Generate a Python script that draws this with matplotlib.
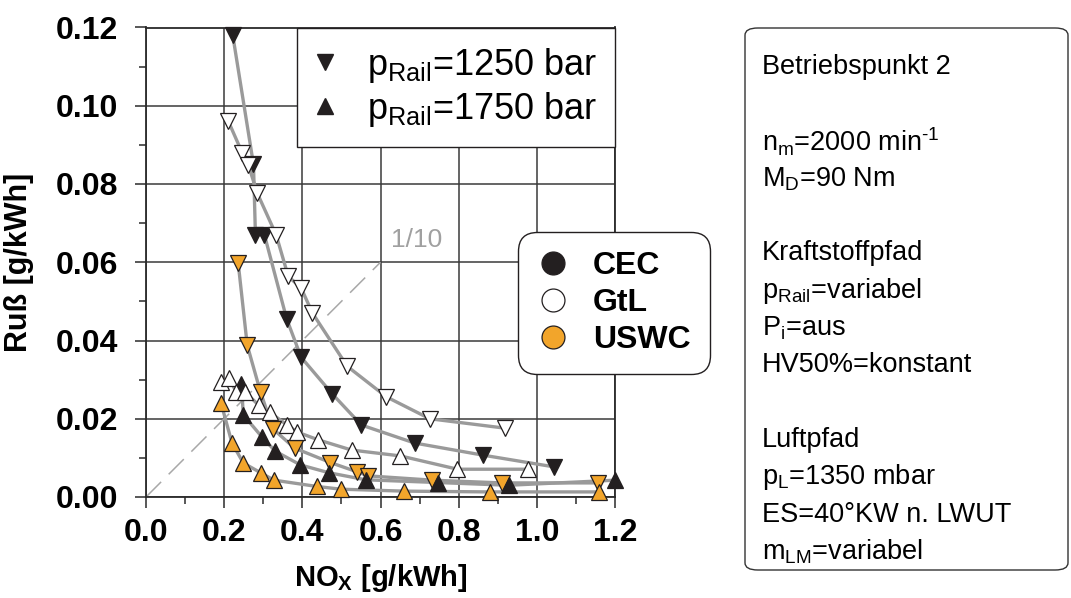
import matplotlib
matplotlib.use("Agg")
import matplotlib.pyplot as plt
from matplotlib.lines import Line2D
from matplotlib.patches import FancyBboxPatch
from matplotlib.ticker import MultipleLocator, FormatStrFormatter

plt.rcParams['font.family'] = ['Liberation Sans', 'DejaVu Sans']
plt.rcParams['mathtext.fontset'] = 'custom'
plt.rcParams['mathtext.rm'] = 'Liberation Sans'
plt.rcParams['mathtext.it'] = 'Liberation Sans'
plt.rcParams['mathtext.bf'] = 'Liberation Sans:bold'

# ---------------- data ----------------
cec_1250_x = [0.222, 0.275, 0.280, 0.303, 0.360, 0.397, 0.477, 0.551, 0.687, 0.862, 1.044]
cec_1250_y = [0.118, 0.085, 0.067, 0.067, 0.0455, 0.0357, 0.0263, 0.0184, 0.0138, 0.0107, 0.0077]

cec_1750_x = [0.244, 0.249, 0.297, 0.331, 0.395, 0.468, 0.562, 0.746, 0.928, 1.200]
cec_1750_y = [0.029, 0.021, 0.0153, 0.0117, 0.0082, 0.0062, 0.0044, 0.0037, 0.0030, 0.0043]

gtl_1250_x = [0.210, 0.246, 0.262, 0.285, 0.333, 0.364, 0.397, 0.426, 0.515, 0.615, 0.726, 0.918]
gtl_1250_y = [0.0962, 0.088, 0.0848, 0.0776, 0.067, 0.0564, 0.0534, 0.047, 0.0334, 0.0256, 0.020, 0.0176]

gtl_1750_x = [0.192, 0.213, 0.231, 0.254, 0.288, 0.316, 0.361, 0.387, 0.441, 0.526, 0.651, 0.797, 0.977]
gtl_1750_y = [0.0294, 0.0303, 0.0268, 0.0268, 0.0235, 0.0217, 0.0184, 0.0166, 0.0146, 0.0120, 0.0105, 0.0071, 0.0071]

uswc_1250_x = [0.236, 0.259, 0.293, 0.325, 0.380, 0.472, 0.541, 0.569, 0.733, 0.910, 1.157]
uswc_1250_y = [0.0597, 0.0388, 0.0268, 0.0174, 0.0125, 0.0088, 0.0064, 0.0054, 0.0043, 0.0036, 0.0036]

uswc_1750_x = [0.192, 0.220, 0.249, 0.295, 0.328, 0.437, 0.498, 0.659, 0.879, 1.159]
uswc_1750_y = [0.0240, 0.0138, 0.0087, 0.0061, 0.0043, 0.0027, 0.0020, 0.0015, 0.0013, 0.0013]

ratio_x = [0.0, 0.6]
ratio_y = [0.0, 0.06]

fuel_labels = ['CEC', 'GtL', 'USWC']
pressure_labels = [r'$\mathregular{p_{Rail}}$=1250 bar', r'$\mathregular{p_{Rail}}$=1750 bar']

info_lines = [
    'Betriebspunkt 2', '',
    r'$\mathregular{n_m}$=2000 min$\mathregular{^{\text{-}1}}$',
    r'$\mathregular{M_D}$=90 Nm', '',
    'Kraftstoffpfad',
    r'$\mathregular{p_{Rail}}$=variabel',
    r'$\mathregular{P_i}$=aus',
    'HV50%=konstant', '',
    'Luftpfad',
    r'$\mathregular{p_L}$=1350 mbar',
    'ES=40°KW n. LWUT',
    r'$\mathregular{m_{LM}}$=variabel',
]

# ---------------- styling ----------------
BLACK = '#231F20'
ORANGE = '#F2A52B'
WHITE = '#FFFFFF'
LINEGRAY = '#9A9A9A'

fig = plt.figure(figsize=(10.71, 5.98), dpi=100)
ax = fig.add_axes([146/1071, 1-497/598, (615-146)/1071, (497-27.5)/598])

series = [
    (uswc_1250_x, uswc_1250_y, 'v', ORANGE),
    (cec_1250_x, cec_1250_y, 'v', BLACK),
    (cec_1750_x, cec_1750_y, '^', BLACK),
    (gtl_1250_x, gtl_1250_y, 'v', WHITE),
    (gtl_1750_x, gtl_1750_y, '^', WHITE),
    (uswc_1750_x, uswc_1750_y, '^', ORANGE),
]
for xs, ys, m, c in series:
    ax.plot(xs, ys, '-', color=LINEGRAY, lw=2.4, zorder=3, solid_capstyle='round')
for i, (xs, ys, m, c) in enumerate(series):
    ax.plot(xs, ys, linestyle='none', marker=m, ms=11.5, mfc=c, mec=BLACK,
            mew=0.9, zorder=4 + i, clip_on=False)

ax.plot(ratio_x, ratio_y, color='#A8A8A8', lw=1.1, dashes=(14, 7), zorder=2.5)
ax.text(0.627, 0.0657, '1/10', color='#A0A0A0', fontsize=19, va='center', ha='left', zorder=2.5)

ax.set_xlim(0, 1.2)
ax.set_ylim(0, 0.12)
ax.xaxis.set_major_locator(MultipleLocator(0.2))
ax.xaxis.set_minor_locator(MultipleLocator(0.1))
ax.yaxis.set_major_locator(MultipleLocator(0.02))
ax.yaxis.set_minor_locator(MultipleLocator(0.01))
ax.xaxis.set_major_formatter(FormatStrFormatter('%.1f'))
ax.yaxis.set_major_formatter(FormatStrFormatter('%.2f'))
ax.grid(True, which='major', color='#3A3A3A', lw=1.1, zorder=1)
ax.set_axisbelow(True)
for s in ax.spines.values():
    s.set_color('#2A2A2A')
    s.set_linewidth(1.3)
ax.tick_params(which='major', direction='out', length=8, width=1.1, color='#2A2A2A',
               labelsize=23)
ax.tick_params(axis='y', which='major', pad=12)
ax.tick_params(axis='x', which='major', pad=7)
ax.tick_params(which='minor', direction='out', length=5, width=1.1, color='#2A2A2A')
for lab in ax.get_xticklabels() + ax.get_yticklabels():
    lab.set_fontweight('bold')

ax.set_xlabel(r'NO$\mathbf{_X}$ [g/kWh]', fontsize=21, fontweight='bold', labelpad=10)
ax.set_ylabel('Ruß [g/kWh]', fontsize=22, fontweight='bold', labelpad=16)

# pressure legend
p_handles = [Line2D([], [], ls='none', marker='v', ms=11, mfc=BLACK, mec=BLACK),
             Line2D([], [], ls='none', marker='^', ms=11, mfc=BLACK, mec=BLACK)]
leg1 = ax.legend(p_handles, pressure_labels, loc='upper right', bbox_to_anchor=(1.0, 1.0),
                 borderaxespad=0, fancybox=False, framealpha=1, edgecolor=BLACK,
                 prop={'size': 26}, handlelength=0.55, handletextpad=0.88,
                 labelspacing=0.15, borderpad=0.5)
leg1.get_frame().set_linewidth(1.0)
leg1.set_zorder(20)
ax.add_artist(leg1)

# fuel legend
f_handles = [Line2D([], [], ls='none', marker='o', ms=16.5, mfc=c, mec=BLACK, mew=0.9)
             for c in (BLACK, WHITE, ORANGE)]
leg2 = ax.legend(f_handles, fuel_labels, loc='center left',
                 bbox_to_anchor=((518-146)/469, (497-303)/469.5),
                 borderaxespad=0, fancybox=True, framealpha=1, edgecolor=BLACK,
                 prop={'size': 23, 'weight': 'bold'}, handlelength=1.0, handletextpad=0.75,
                 labelspacing=0.22, borderpad=0.6)
leg2.get_frame().set_linewidth(1.0)
leg2.get_frame().set_boxstyle('round,pad=0.0,rounding_size=0.6')
leg2.set_zorder(20)

# info box
bx0, by0, bx1, by1 = 745/1071, 1-570/598, 1068/1071, 1-28/598
box = FancyBboxPatch((bx0, by0), bx1-bx0, by1-by0, boxstyle='round,pad=0,rounding_size=0.012',
                     transform=fig.transFigure, facecolor='white', edgecolor='#333333', lw=1.0)
fig.patches.append(box)
y0 = 67
dy = 37.3
for i, t in enumerate(info_lines):
    if t:
        fig.text(762/1071, 1-(y0 + i*dy)/598, t, fontsize=19.5, va='center', ha='left')

fig.savefig('out.png', dpi=100)
